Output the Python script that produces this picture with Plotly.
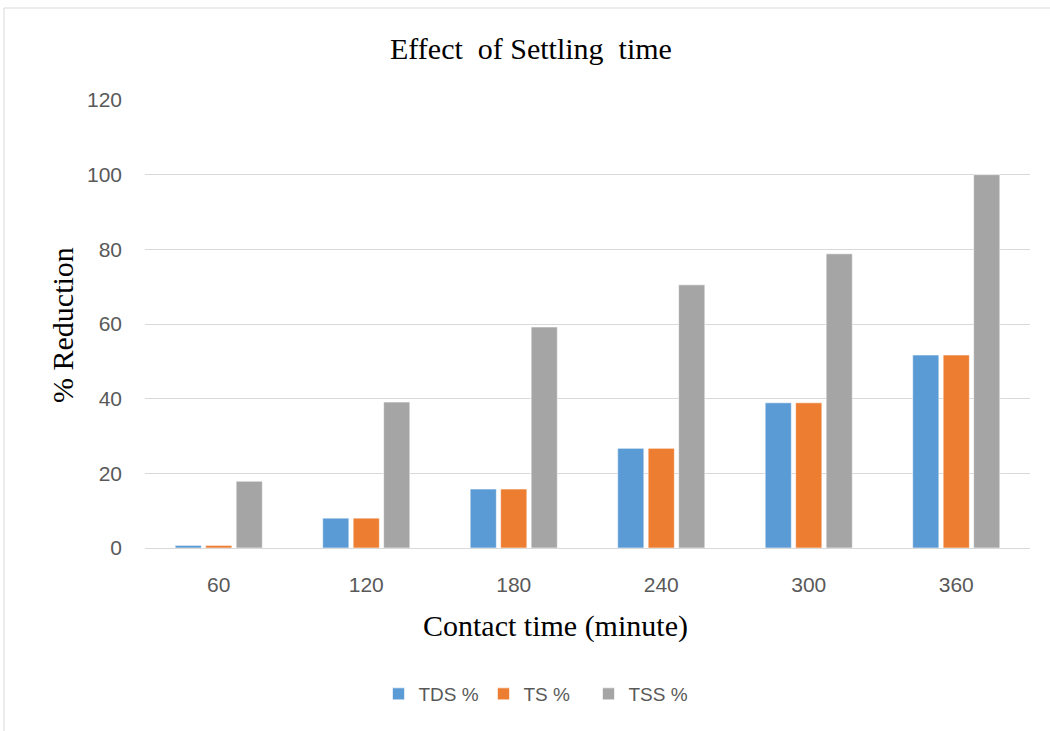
import plotly.graph_objects as go

# Contact time categories (minutes)
contact_time = ["60", "120", "180", "240", "300", "360"]

# Percent reduction per parameter
tds_pct = [0.7, 8.0, 15.8, 26.7, 38.9, 51.7]
ts_pct = [0.7, 8.0, 15.8, 26.7, 38.9, 51.7]
tss_pct = [17.9, 39.1, 59.2, 70.5, 78.8, 100.0]

series = [
    ("TDS %", tds_pct, "#5B9BD5"),
    ("TS %", ts_pct, "#ED7D31"),
    ("TSS %", tss_pct, "#A5A5A5"),
]

fig = go.Figure()
for name, vals, color in series:
    fig.add_trace(go.Bar(
        x=contact_time, y=vals, name=name,
        marker=dict(color=color, line=dict(color="rgba(255,255,255,0.6)", width=1)),
    ))

serif = "Liberation Serif, Times New Roman, serif"
sans = "Liberation Sans, Arial, sans-serif"

# plot area in pixels: x 145..1030, y 100..548
L, R, T, B = 145, 1030, 100, 548
W, H = R - L, B - T

fig.update_layout(
    width=1050, height=731,
    margin=dict(l=L, r=1050 - R, t=T, b=731 - B),
    paper_bgcolor="white", plot_bgcolor="white",
    barmode="group", bargap=0.38, bargroupgap=0.14,
    title=dict(text="Effect  of Settling  time", x=531 / 1050, xanchor="center",
               y=1 - 48 / 731, yanchor="middle",
               font=dict(family=serif, size=30, color="#000000")),
    font=dict(family=sans, size=19, color="#595959"),
    showlegend=True,
    legend=dict(orientation="h", x=(536 - L) / W, xanchor="center",
                y=(B - 694) / H, yanchor="middle",
                font=dict(family=sans, size=19, color="#595959"),
                traceorder="normal", itemwidth=30,
                entrywidth=60, entrywidthmode="pixels"),
    xaxis=dict(
        showgrid=False, showline=True, linecolor="#D9D9D9", linewidth=1,
        ticks="", tickfont=dict(family=sans, size=21, color="#595959"),
        ticklabelstandoff=18,
    ),
    yaxis=dict(
        range=[0, 120], dtick=20, showgrid=True, gridcolor="#D9D9D9", gridwidth=1,
        zeroline=False, showline=False, ticks="",
        tickfont=dict(family=sans, size=21, color="#595959"),
        ticklabelstandoff=22,
    ),
    annotations=[
        dict(text="Contact time (minute)", xref="paper", yref="paper",
             x=(555 - L) / W, y=(B - 626) / H, xanchor="center", yanchor="middle",
             showarrow=False, font=dict(family=serif, size=30, color="#000000")),
        dict(text="% Reduction", xref="paper", yref="paper", textangle=-90,
             x=(62 - L) / W, y=(B - 325) / H, xanchor="center", yanchor="middle",
             showarrow=False, font=dict(family=serif, size=30, color="#000000")),
    ],
    shapes=[dict(type="rect", xref="paper", yref="paper",
                 x0=(4 - L) / W, x1=1.2, y0=-0.6, y1=(B - 8) / H,
                 line=dict(color="#D9D9D9", width=1), fillcolor="rgba(0,0,0,0)",
                 layer="below")],
)

fig.write_html("out.html")
